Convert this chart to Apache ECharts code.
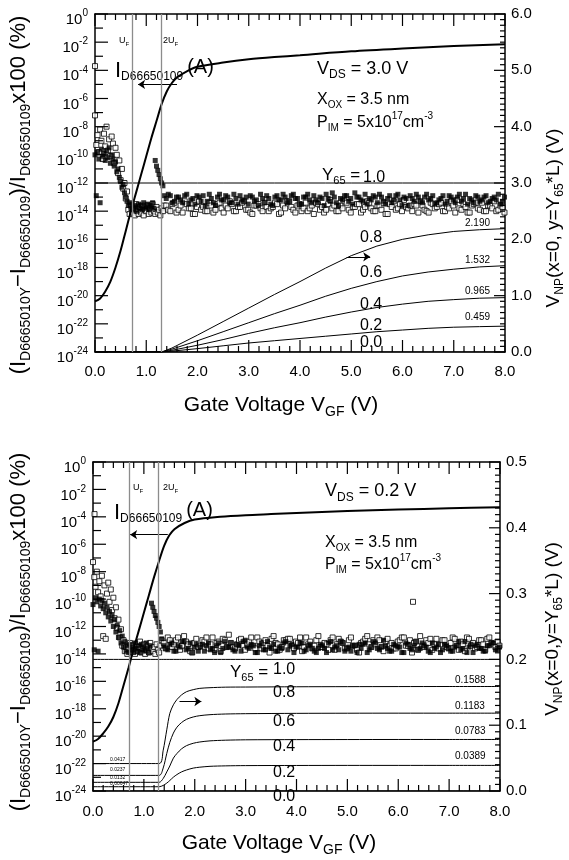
<!DOCTYPE html>
<html>
<head>
<meta charset="utf-8">
<script src="https://cdn.jsdelivr.net/npm/echarts@6/dist/echarts.min.js"></script>
<style>
html, body { margin: 0; padding: 0; background: #fff; }
#chart { position: relative; width: 569px; height: 860px; }
#top, #bot { position: absolute; left: 0; width: 569px; height: 430px; }
#top { top: 0; }
#bot { top: 430px; }
</style>
</head>
<body>
<div id="chart"><div id="top"></div><div id="bot"></div></div>
<script>
// gate voltage sweep (V), shared by the measured ratio scatter sets
const sweepGate = [
  0,0.025,0.05,0.075,0.1,0.125,0.15,0.175,0.2,0.225,0.25,0.275,0.3,0.325,0.35,0.375,0.4,0.425,0.45,0.475,
  0.5,0.525,0.55,0.575,0.6,0.625,0.65,0.675,0.7,0.725,0.75,0.775,0.8,0.825,0.85,0.875,0.9,0.925,0.95,0.975,
  1,1.025,1.05,1.075,1.1,1.125,1.15,1.175,1.2,1.225,1.25,1.275,1.3,1.325,1.35,
  1.39,1.43,1.47,1.51,1.55,1.59,1.63,1.67,1.71,1.75,1.79,1.83,1.87,1.91,1.95,1.99,2.03,2.07,2.11,2.15,
  2.19,2.23,2.27,2.31,2.35,2.39,2.43,2.47,2.51,2.55,2.59,2.63,2.67,2.71,2.75,2.79,2.83,2.87,2.91,2.95,
  2.99,3.03,3.07,3.11,3.15,3.19,3.23,3.27,3.31,3.35,3.39,3.43,3.47,3.51,3.55,3.59,3.63,3.67,3.71,3.75,
  3.79,3.83,3.87,3.91,3.95,3.99,4.03,4.07,4.11,4.15,4.19,4.23,4.27,4.31,4.35,4.39,4.43,4.47,4.51,4.55,
  4.59,4.63,4.67,4.71,4.75,4.79,4.83,4.87,4.91,4.95,4.99,5.03,5.07,5.11,5.15,5.19,5.23,5.27,5.31,5.35,
  5.39,5.43,5.47,5.51,5.55,5.59,5.63,5.67,5.71,5.75,5.79,5.83,5.87,5.91,5.95,5.99,6.03,6.07,6.11,6.15,
  6.19,6.23,6.27,6.31,6.35,6.39,6.43,6.47,6.51,6.55,6.59,6.63,6.67,6.71,6.75,6.79,6.83,6.87,6.91,6.95,
  6.99,7.03,7.07,7.11,7.15,7.19,7.23,7.27,7.31,7.35,7.39,7.43,7.47,7.51,7.55,7.59,7.63,7.67,7.71,7.75,
  7.79,7.83,7.87,7.91,7.95,7.99
];

// log10 of the relative difference (%), V_DS = 3.0 V
const topFilledLog = [
  -10.0,-12.9,-9.8,-10.3,-13.4,-9.6,-10.1,-9.9,-10.4,-9.7,-10.2,-9.5,-10.6,-10.0,-10.3,-10.8,-10.5,-11.2,-11.0,-11.6,
  -11.9,-12.3,-12.1,-12.7,-13.0,-13.3,-13.6,-13.4,-13.8,-13.5,-13.9,-13.6,-13.7,-14.0,-13.5,-13.8,-13.6,-13.9,-13.4,-13.7,
  -13.8,-13.5,-13.9,-13.6,-13.7,-13.4,-13.8,-10.4,-10.8,-11.1,-11.4,-11.7,-12.0,-12.2,-12.9,
  -13.1,-12.8,-12.9,-13.4,-13.3,-13.0,-13.0,-13.2,-13.4,-12.9,-12.8,-13.5,-13.2,-13.1,-13.5,-12.9,-13.0,-13.3,-12.9,-13.6,
  -13.3,-12.8,-13.1,-13.4,-13.6,-13.0,-12.8,-13.2,-13.2,-12.9,-13.0,-13.4,-13.4,-12.8,-13.1,-13.5,-12.9,-13.2,-13.3,-13.0,
  -13.5,-12.9,-13.0,-13.3,-13.2,-13.6,-12.8,-13.1,-13.4,-12.9,-13.1,-13.5,-13.6,-13.0,-12.9,-13.2,-13.2,-12.8,-13.0,-13.4,
  -13.3,-12.9,-12.8,-13.1,-13.1,-13.5,-13.5,-13.0,-13.0,-12.8,-13.2,-13.4,-12.9,-13.2,-13.4,-13.0,-13.1,-13.6,-12.8,-13.1,
  -13.3,-12.7,-13.0,-13.4,-13.6,-13.1,-13.2,-12.9,-12.9,-13.3,-13.1,-13.5,-12.7,-13.0,-13.0,-13.2,-13.3,-12.8,-13.5,-13.1,
  -13.2,-12.9,-13.0,-13.4,-12.8,-13.0,-13.3,-13.5,-13.1,-12.9,-13.4,-13.2,-12.9,-12.8,-13.2,-13.6,-13.0,-13.1,-13.6,-12.9,
  -13.1,-13.3,-12.8,-13.0,-13.3,-13.4,-13.0,-12.8,-13.2,-13.1,-12.9,-13.5,-13.4,-13.2,-13.1,-12.9,-13.5,-13.3,-12.9,-13.0,
  -13.2,-13.4,-13.0,-12.8,-13.3,-13.1,-12.8,-13.5,-13.1,-13.2,-13.4,-12.9,-13.0,-13.3,-13.2,-13.0,-12.9,-13.4,-13.3,-13.1,
  -13.0,-13.2,-12.8,-13.5,-13.3,-13.0
];
const topOpenLog = [
  -7.2,-9.3,-8.6,-9.8,-8.2,-9.0,-10.3,-8.5,-9.4,-8.0,-9.7,-8.9,-10.1,-8.7,-9.2,-10.6,-9.5,-10.0,-11.3,-10.4,
  -11.8,-11.0,-12.4,-12.0,-13.1,-12.6,-13.9,-14.2,-13.6,-14.1,-13.8,-14.3,-13.5,-14.0,-14.2,-13.7,-14.1,-13.6,-14.3,-13.9,
  -14.0,-13.6,-14.2,-13.8,-14.1,-13.5,-14.0,-14.2,-13.7,-14.1,-13.9,-14.3,-13.8,-14.0,-13.6,
  -13.6,-13.9,-14.0,-13.5,-13.4,-14.1,-13.9,-13.6,-14.1,-13.3,-13.5,-13.8,-13.8,-14.2,-14.2,-13.7,-13.3,-13.9,-13.7,-14.0,
  -14.0,-13.4,-13.6,-14.1,-13.9,-13.5,-13.4,-13.8,-14.1,-13.6,-13.8,-13.3,-13.5,-14.0,-14.0,-13.7,-13.7,-13.4,-13.3,-13.9,
  -13.9,-14.1,-14.2,-13.6,-13.6,-13.5,-13.8,-14.0,-13.4,-13.7,-14.0,-13.8,-13.7,-13.4,-13.5,-14.2,-14.1,-13.6,-13.8,-13.3,
  -13.3,-13.7,-13.9,-14.1,-13.6,-13.5,-14.0,-13.8,-13.4,-14.0,-13.8,-13.6,-14.2,-13.4,-13.5,-13.9,-13.7,-14.1,-13.9,-13.5,
  -13.2,-13.8,-13.6,-14.0,-14.0,-13.6,-13.8,-13.3,-13.4,-13.9,-14.1,-13.7,-13.7,-13.5,-13.5,-14.1,-13.9,-13.7,-13.3,-13.4,
  -13.8,-14.0,-14.0,-13.6,-13.6,-13.9,-13.4,-14.2,-14.2,-13.5,-13.7,-13.3,-13.9,-13.8,-13.5,-14.0,-13.2,-13.7,-13.8,-13.6,
  -14.0,-13.5,-13.6,-14.1,-13.3,-13.6,-13.9,-14.0,-14.1,-13.4,-13.5,-13.8,-13.7,-13.5,-13.4,-14.0,-14.0,-13.7,-13.8,-13.3,
  -13.6,-14.1,-13.2,-13.8,-13.9,-13.5,-13.7,-14.1,-14.1,-13.6,-13.5,-13.4,-13.8,-13.9,-13.4,-14.0,-14.0,-13.6,-13.6,-13.8,
  -13.3,-14.0,-13.9,-13.6,-13.7,-14.1
];
const topOpenExtra = [[0, -3.7]];

// log10 of the relative difference (%), V_DS = 0.2 V
const botFilledLog = [
  -10.4,-13.7,-9.9,-10.2,-13.8,-10.0,-10.5,-10.1,-10.7,-10.3,-11.0,-10.6,-11.3,-10.9,-11.6,-11.2,-12.0,-11.5,-12.4,-11.9,
  -12.8,-12.3,-13.2,-12.7,-13.5,-13.1,-13.8,-13.4,-13.9,-13.3,-13.7,-13.5,-13.9,-13.2,-13.6,-13.8,-13.4,-13.9,-13.3,-13.7,
  -13.5,-13.8,-13.2,-13.6,-13.9,-13.4,-10.3,-10.6,-10.9,-11.2,-11.4,-11.7,-12.0,-12.4,-12.9,
  -13.4,-13.6,-13.7,-13.3,-13.2,-13.8,-13.8,-13.4,-13.5,-13.1,-13.1,-13.7,-13.6,-13.2,-13.9,-13.5,-13.3,-13.8,-13.5,-13.3,
  -13.8,-13.4,-13.2,-13.7,-13.6,-13.9,-13.4,-13.2,-13.9,-13.6,-13.1,-13.5,-13.5,-13.2,-13.7,-13.8,-13.3,-13.4,-13.8,-13.1,
  -13.0,-13.5,-13.6,-13.3,-13.4,-13.9,-13.9,-13.4,-13.2,-13.7,-13.7,-13.1,-13.5,-13.6,-13.3,-13.8,-13.8,-13.5,-13.6,-13.2,
  -13.1,-13.7,-13.4,-13.3,-13.9,-13.5,-13.5,-13.2,-13.2,-13.8,-13.7,-13.4,-13.3,-13.6,-13.8,-13.9,-13.6,-13.3,-13.4,-13.6,
  -13.9,-13.2,-13.1,-13.7,-13.5,-13.4,-13.7,-13.1,-13.2,-13.8,-13.6,-13.5,-13.8,-13.4,-13.4,-13.9,-13.3,-13.6,-13.3,-13.2,
  -13.9,-13.7,-13.5,-13.1,-13.2,-13.6,-13.7,-13.5,-13.0,-13.4,-13.6,-13.8,-13.8,-13.3,-13.4,-13.5,-13.5,-13.9,-13.9,-13.2,
  -13.3,-13.6,-13.7,-13.4,-13.1,-13.7,-13.6,-13.2,-13.4,-13.5,-13.8,-13.9,-13.2,-13.6,-13.5,-13.3,-13.9,-13.7,-13.3,-13.4,
  -13.6,-13.8,-13.8,-13.5,-13.4,-13.1,-13.7,-13.6,-13.1,-13.9,-13.5,-13.3,-13.9,-13.4,-13.3,-13.6,-13.6,-13.8,-13.8,-13.4,
  -13.4,-13.2,-13.2,-13.7,-13.7,-13.5
];
const botOpenLog = [
  -7.3,-8.4,-9.1,-8.0,-9.5,-8.7,-9.8,-8.3,-12.7,-9.0,-12.9,-9.6,-8.8,-10.2,-9.3,-10.8,-9.9,-11.4,-10.6,-12.1,
  -11.5,-12.8,-12.2,-13.4,-13.0,-13.8,-13.5,-14.0,-13.6,-13.2,-13.9,-13.4,-13.7,-14.0,-13.3,-13.8,-13.5,-13.1,-13.9,-13.6,
  -13.3,-14.0,-13.7,-13.4,-13.9,-13.2,-13.6,-13.8,-13.5,-14.0,-13.3,-13.7,-13.9,-13.4,-13.0,
  -13.2,-13.6,-12.8,-13.0,-13.5,-13.3,-13.0,-12.8,-13.7,-13.4,-12.7,-13.1,-13.3,-13.8,-13.9,-13.2,-12.9,-13.5,-13.4,-13.0,
  -13.1,-12.8,-13.6,-13.3,-12.8,-13.7,-13.2,-13.1,-13.8,-12.9,-13.0,-13.5,-12.6,-13.2,-13.5,-13.6,-13.3,-13.0,-12.9,-13.4,
  -13.7,-13.3,-13.1,-12.8,-13.4,-13.6,-12.8,-13.1,-13.6,-13.2,-13.0,-13.4,-13.9,-12.9,-12.7,-13.2,-13.3,-13.7,-13.5,-13.0,
  -13.0,-12.9,-12.9,-13.4,-13.6,-13.1,-13.2,-12.8,-13.8,-13.5,-12.8,-13.3,-13.1,-13.6,-13.4,-13.0,-12.7,-13.5,-13.5,-13.2,
  -13.3,-13.7,-13.0,-12.8,-13.7,-13.3,-12.9,-13.1,-13.2,-13.6,-13.6,-13.0,-12.8,-13.4,-13.4,-13.7,-13.9,-13.2,-13.1,-12.9,
  -12.7,-13.3,-13.5,-13.0,-13.3,-12.8,-13.0,-13.5,-13.8,-13.1,-12.9,-13.4,-13.2,-13.6,-13.6,-13.1,-13.0,-12.8,-12.8,-13.4,
  -13.4,-13.0,-13.9,-13.2,-13.1,-13.7,-12.7,-13.4,-13.5,-13.0,-13.2,-12.9,-13.7,-13.3,-12.9,-13.6,-13.3,-13.0,-13.0,-13.5,
  -13.6,-13.2,-12.8,-12.9,-13.4,-13.7,-13.1,-13.3,-13.8,-12.8,-12.9,-13.4,-13.2,-13.6,-13.5,-13.0,-13.0,-13.3,-13.7,-12.9,
  -12.8,-13.2,-13.3,-13.5,-13.1,-13.4
];
const botOpenExtra = [[0.03, -3.8], [6.29, -10.2]];

// drain current I_D66650109 (log10 A)
const idGate = [0,0.1,0.2,0.3,0.4,0.5,0.6,0.7,0.8,0.9,1.0,1.1,1.2,1.3,1.4,1.5,1.6,1.8,2.0,2.5,3.0,3.5,4.0,5.0,6.0,7.0,8.0];
const topIdLog = [-20.4,-20.2,-19.7,-19.0,-18.0,-16.8,-15.4,-14.0,-12.7,-11.4,-10.1,-8.8,-7.6,-6.4,-5.5,-4.9,-4.5,-4.05,-3.75,-3.45,-3.22,-3.06,-2.93,-2.65,-2.45,-2.28,-2.15];
const botIdLog = [-20.4,-20.2,-19.8,-19.3,-18.6,-17.6,-16.3,-15.0,-13.6,-12.3,-11.0,-9.7,-8.4,-7.2,-6.1,-5.35,-4.9,-4.45,-4.2,-4.0,-3.88,-3.8,-3.72,-3.58,-3.47,-3.38,-3.3];

// V_NP(x=0, y=Y65*L) (V) for Y65 = 1.0, 0.8, 0.6, 0.4, 0.2, 0.0
const topCurveGate = [0,1.3,1.5,2,2.5,3,3.5,4,4.5,5,5.5,6,6.5,7,7.5,8];
const topVnp10 = [3,3,3,3,3,3,3,3,3,3,3,3,3,3,3,3];
const topVnp08 = [0,0,0.07,0.3,0.54,0.78,1.02,1.25,1.49,1.71,1.88,2.0,2.08,2.14,2.17,2.19];
const topVnp06 = [0,0,0.05,0.2,0.36,0.52,0.68,0.83,0.99,1.13,1.25,1.35,1.42,1.47,1.51,1.532];
const topVnp04 = [0,0,0.03,0.12,0.22,0.33,0.43,0.52,0.62,0.71,0.79,0.85,0.9,0.93,0.955,0.965];
const topVnp02 = [0,0,0.015,0.06,0.11,0.16,0.2,0.24,0.28,0.32,0.36,0.39,0.42,0.44,0.45,0.459];
const topVnp00 = [0,0,0,0,0,0,0,0,0,0,0,0,0,0,0,0];

const botCurveGate = [0,1.3,1.38,1.45,1.51,1.58,1.65,1.74,1.84,1.97,2.1,2.3,2.6,3,4,5,6,7,8];
const botVnp10 = [0.2,0.2,0.2,0.2,0.2,0.2,0.2,0.2,0.2,0.2,0.2,0.2,0.2,0.2,0.2,0.2,0.2,0.2,0.2];
const botVnp08 = [0.0417,0.0417,0.062,0.093,0.118,0.131,0.139,0.146,0.151,0.154,0.156,0.157,0.1578,0.158,0.1584,0.1586,0.1587,0.1588,0.1588];
const botVnp06 = [0.0237,0.0237,0.035,0.057,0.074,0.088,0.097,0.104,0.109,0.1125,0.1145,0.116,0.117,0.1175,0.118,0.1182,0.1183,0.1183,0.1183];
const botVnp04 = [0.0132,0.0132,0.019,0.029,0.038,0.05,0.057,0.064,0.069,0.0725,0.0745,0.0762,0.0772,0.0778,0.0781,0.0782,0.0783,0.0783,0.0783];
const botVnp02 = [0.0065,0.0065,0.0085,0.012,0.016,0.021,0.025,0.029,0.032,0.0348,0.0362,0.0375,0.0382,0.0386,0.0388,0.0389,0.0389,0.0389,0.0389];
const botVnp00 = [0,0,0,0,0,0,0,0,0,0,0,0,0,0,0,0,0,0,0];

const yFractionTags = ['1.0', '0.8', '0.6', '0.4', '0.2', '0.0'];
const topEndTags = ['2.190', '1.532', '0.965', '0.459'];
const botEndTags = ['0.1588', '0.1183', '0.0783', '0.0389'];
const botStartTags = ['0.0417', '0.0237', '0.0132', '0.00647'];

const uF = 0.72, twoUF = 1.29;

const FONT = '"Liberation Sans", Arial, Helvetica, sans-serif';
const black = '#000';
const BOT_OFFSET = 430; // the lower panel lives in its own chart below this line

function pairs(xs, ys) { return xs.map((x, i) => [x, ys[i]]); }

// rich text with sub/superscripts: m main, d sub, u sup
function richSet(S, sub, drop, sup, rise) {
  sup = sup || Math.round(S * 0.62);
  rise = rise || S * 0.42;
  const up = Math.max(0, rise + sup / 2 - S / 2);
  const mid = up + S / 2;
  const tok = (fs, pt) => ({ fontFamily: FONT, fontSize: fs, lineHeight: fs, padding: [pt, 0, 0, 0], verticalAlign: 'top', fill: black, color: black });
  return { mid: mid, rich: { m: tok(S, up), d: tok(sub, mid + drop - sub / 2), u: tok(sup, mid - rise - sup / 2) } };
}

function txt(x, y, text, set, rot, align) {
  return {
    type: 'text', silent: true, x: x, y: y, rotation: rot || 0,
    style: { text: text, rich: set.rich, x: 0, y: -set.mid, align: align || 'left', textAlign: align || 'left', verticalAlign: 'top', textVerticalAlign: 'top', fill: black }
  };
}
function txtB(x, y, text, set, rot, align) { return txt(x, y - BOT_OFFSET, text, set, rot, align); }

const setUF = richSet(9, 6, 3);
const setBig = richSet(18, 12, 6);
const setY65 = richSet(17, 11, 6);
const setParam = richSet(16, 10, 5, 10, 7);
const setNum = richSet(16, 10, 5);
const setEnd = richSet(10, 6, 3);
const setTiny = richSet(5, 3, 2);
const setLeftTitle = richSet(22, 14, 7);
const setRightTitle = richSet(19, 12, 6);
const setXTitle = richSet(21, 14, 7);
const setID = {
  mid: 13,
  rich: {
    m: { fontFamily: FONT, fontSize: 22, lineHeight: 22, padding: [2, 0, 0, 0], verticalAlign: 'top', fill: black },
    d: { fontFamily: FONT, fontSize: 12, lineHeight: 12, padding: [13, 0, 0, 0], verticalAlign: 'top', fill: black },
    a: { fontFamily: FONT, fontSize: 20, lineHeight: 20, padding: [0, 0, 0, 4], verticalAlign: 'top', fill: black }
  }
};

const R90 = Math.PI / 2;
const leftTitle = '{m|(I}{d|D6665010Y}{m|\u2212I}{d|D66650109}{m|)/I}{d|D66650109}{m|x100 (%)}';
const xTitle = '{m|Gate Voltage V}{d|GF}{m| (V)}';

const topGraphics = [
  txt(119, 41, '{m|U}{d|F}', setUF),
  txt(163, 41, '{m|2U}{d|F}', setUF),
  txt(115, 70.5, '{m|I}{d|D66650109}{a|(A)}', setID),
  txt(317, 69, '{m|V}{d|DS}{m| = 3.0 V}', setBig),
  txt(317, 100, '{m|X}{d|OX}{m| = 3.5 nm}', setParam),
  txt(317, 123, '{m|P}{d|IM}{m| = 5x10}{u|17}{m|cm}{u|-3}', setParam),
  txt(322, 175, '{m|Y}{d|65}{m| =}', setY65),
  txt(363, 178, '{m|' + yFractionTags[0] + '}', setNum),
  txt(360, 238, '{m|' + yFractionTags[1] + '}', setNum),
  txt(360, 273, '{m|' + yFractionTags[2] + '}', setNum),
  txt(360, 305, '{m|' + yFractionTags[3] + '}', setNum),
  txt(360, 326, '{m|' + yFractionTags[4] + '}', setNum),
  txt(360, 343, '{m|' + yFractionTags[5] + '}', setNum),
  txt(465, 223, '{m|' + topEndTags[0] + '}', setEnd),
  txt(465, 260, '{m|' + topEndTags[1] + '}', setEnd),
  txt(465, 291.5, '{m|' + topEndTags[2] + '}', setEnd),
  txt(465, 317, '{m|' + topEndTags[3] + '}', setEnd),
  txt(19, 195, leftTitle, setLeftTitle, R90, 'center'),
  txt(554, 218, '{m|V}{d|NP}{m|(x=0, y=Y}{d|65}{m|*L) (V)}', setRightTitle, R90, 'center'),
  txt(281, 405, xTitle, setXTitle, 0, 'center')
];

const botGraphics = [
  txtB(133, 488, '{m|U}{d|F}', setUF),
  txtB(163, 488, '{m|2U}{d|F}', setUF),
  txtB(114, 513, '{m|I}{d|D66650109}{a|(A)}', setID),
  txtB(325, 491.5, '{m|V}{d|DS}{m| = 0.2 V}', setBig),
  txtB(325, 543, '{m|X}{d|OX}{m| = 3.5 nm}', setParam),
  txtB(325, 565, '{m|P}{d|IM}{m| = 5x10}{u|17}{m|cm}{u|-3}', setParam),
  txtB(230, 672, '{m|Y}{d|65}{m| =}', setY65),
  txtB(273, 670, '{m|' + yFractionTags[0] + '}', setNum),
  txtB(273, 693, '{m|' + yFractionTags[1] + '}', setNum),
  txtB(273, 722, '{m|' + yFractionTags[2] + '}', setNum),
  txtB(273, 747, '{m|' + yFractionTags[3] + '}', setNum),
  txtB(273, 773, '{m|' + yFractionTags[4] + '}', setNum),
  txtB(273, 797, '{m|' + yFractionTags[5] + '}', setNum),
  txtB(455, 680, '{m|' + botEndTags[0] + '}', setEnd),
  txtB(455, 706, '{m|' + botEndTags[1] + '}', setEnd),
  txtB(455, 731, '{m|' + botEndTags[2] + '}', setEnd),
  txtB(455, 756.5, '{m|' + botEndTags[3] + '}', setEnd),
  txtB(110, 760, '{m|' + botStartTags[0] + '}', setTiny),
  txtB(110, 770, '{m|' + botStartTags[1] + '}', setTiny),
  txtB(110, 777.5, '{m|' + botStartTags[2] + '}', setTiny),
  txtB(110, 783.5, '{m|' + botStartTags[3] + '}', setTiny),
  txtB(19, 632, leftTitle, setLeftTitle, R90, 'center'),
  txtB(553, 629, '{m|V}{d|NP}{m|(x=0,y=Y}{d|65}{m|*L) (V)}', setRightTitle, R90, 'center'),
  txtB(279, 843, xTitle, setXTitle, 0, 'center')
];

function xAxes(margin) {
  const make = (pos) => ({
    type: 'value', gridIndex: 0, position: pos, min: 0, max: 8, interval: 1,
    splitLine: { show: false },
    axisLine: { show: true, onZero: false, lineStyle: { color: black, width: 1.5 } },
    axisTick: { show: false },
    axisLabel: pos === 'bottom'
      ? { show: true, margin: margin, fontFamily: FONT, fontSize: 15, color: black, showMinLabel: true, showMaxLabel: true, formatter: v => v.toFixed(1) }
      : { show: false }
  });
  return [make('bottom'), make('top')];
}

function logAxis() {
  return {
    type: 'value', gridIndex: 0, position: 'left', min: -24, max: 0, interval: 2,
    splitLine: { show: false },
    axisLine: { show: true, onZero: false, lineStyle: { color: black, width: 1.5 } },
    axisTick: { show: false },
    axisLabel: {
      show: true, margin: 7, showMinLabel: true, showMaxLabel: true,
      formatter: v => '{b|10}{e|' + String(v) + '}',
      rich: {
        b: { fontFamily: FONT, fontSize: 15, lineHeight: 15, padding: [6, 0, 6, 0], verticalAlign: 'top', color: black },
        e: { fontFamily: FONT, fontSize: 10, lineHeight: 10, padding: [2, 0, 0, 0], verticalAlign: 'top', color: black }
      }
    }
  };
}

function vAxis(max, step) {
  return {
    type: 'value', gridIndex: 0, position: 'right', min: 0, max: max, interval: step,
    splitLine: { show: false },
    axisLine: { show: true, onZero: false, lineStyle: { color: black, width: 1.5 } },
    axisTick: { show: false },
    axisLabel: { show: true, margin: 6, fontFamily: FONT, fontSize: 15, color: black, showMinLabel: true, showMaxLabel: true, formatter: v => v.toFixed(1) }
  };
}

// inward tick marks placed through the axes' own value->pixel conversion
function tickMarks(chart, d) {
  const els = [];
  const top = d.box[1], bottom = d.box[1] + d.box[3];
  const left = d.box[0], right = d.box[0] + d.box[2];
  const seg = (x1, y1, x2, y2) => els.push({
    type: 'line', silent: true, z: 100,
    shape: { x1: x1, y1: y1, x2: x2, y2: y2 },
    style: { stroke: black, lineWidth: 1.2 }
  });
  for (let i = 0; i <= 40; i++) {
    const px = chart.convertToPixel({ xAxisIndex: 0 }, i / 5);
    const len = i % 5 === 0 ? 12 : 6;
    seg(px, bottom, px, bottom - len);
    seg(px, top, px, top + len);
  }
  for (let e = -24; e <= 0; e++) {
    const py = chart.convertToPixel({ yAxisIndex: 0 }, e);
    seg(left, py, left + (e % 2 === 0 ? 13 : 8), py);
  }
  const nMinor = Math.round(d.vMax / d.vStep) * 10;
  for (let i = 0; i <= nMinor; i++) {
    const py = chart.convertToPixel({ yAxisIndex: 1 }, i * d.vStep / 10);
    seg(right, py, right - (i % 10 === 0 ? 11 : 5), py);
  }
  return els;
}

function panelSeries(d) {
  const list = [];
  list.push({
    type: 'scatter', xAxisIndex: 0, yAxisIndex: 0, symbol: 'rect', symbolSize: 5,
    itemStyle: { color: '#fff', borderColor: black, borderWidth: 1 },
    data: pairs(sweepGate, d.open).concat(d.openExtra)
  });
  list.push({
    type: 'scatter', xAxisIndex: 0, yAxisIndex: 0, symbol: 'rect', symbolSize: 5,
    itemStyle: { color: black }, data: pairs(sweepGate, d.filled),
    markLine: {
      silent: true, symbol: ['none', 'arrow'], symbolSize: 7, label: { show: false },
      lineStyle: { color: black, width: 1, type: 'solid' },
      data: [[{ coord: d.idArrow[0] }, { coord: d.idArrow[1] }]]
    }
  });
  list.push({
    type: 'line', xAxisIndex: 0, yAxisIndex: 0, data: pairs(idGate, d.idLog),
    showSymbol: false, smooth: 0.3,
    lineStyle: { color: black, width: 2 },
    markLine: {
      silent: true, symbol: 'none', label: { show: false },
      lineStyle: { color: '#8c8c8c', width: 1.3, type: 'solid' },
      data: [{ xAxis: uF }, { xAxis: twoUF }]
    }
  });
  d.curves.forEach((c, k) => {
    const s = {
      type: 'line', xAxisIndex: 0, yAxisIndex: 1, data: pairs(d.curveGate, c),
      showSymbol: false, smooth: d.smoothCurves,
      lineStyle: { color: black, width: 1 }
    };
    if (k === 1) {
      s.markLine = {
        silent: true, symbol: ['none', 'arrow'], symbolSize: 7, label: { show: false },
        lineStyle: { color: black, width: 1, type: 'solid' },
        data: [[{ coord: d.vArrow[0] }, { coord: d.vArrow[1] }]]
      };
    }
    list.push(s);
  });
  return list;
}

function drawPanel(el, d) {
  const chart = echarts.init(el);
  chart.setOption({
    animation: false,
    backgroundColor: '#fff',
    grid: { left: d.box[0], top: d.box[1], width: d.box[2], height: d.box[3] },
    xAxis: xAxes(d.labelMargin),
    yAxis: [logAxis(), vAxis(d.vMax, d.vStep)],
    series: panelSeries(d)
  });
  chart.setOption({ graphic: { elements: d.graphics.concat(tickMarks(chart, d)) } });
  return chart;
}

drawPanel(document.getElementById('top'), {
  box: [95, 14, 410, 338], labelMargin: 12, vMax: 6, vStep: 1,
  filled: topFilledLog, open: topOpenLog, openExtra: topOpenExtra, idLog: topIdLog,
  idArrow: [[1.6, -5.0], [0.84, -5.0]],
  curveGate: topCurveGate, curves: [topVnp10, topVnp08, topVnp06, topVnp04, topVnp02, topVnp00],
  smoothCurves: false,
  vArrow: [[4.91, 1.69], [5.37, 1.69]],
  graphics: topGraphics
});

drawPanel(document.getElementById('bot'), {
  box: [93, 462 - BOT_OFFSET, 407, 329], labelMargin: 13, vMax: 0.5, vStep: 0.1,
  filled: botFilledLog, open: botOpenLog, openExtra: botOpenExtra, idLog: botIdLog,
  idArrow: [[1.47, -5.3], [0.73, -5.3]],
  curveGate: botCurveGate, curves: [botVnp10, botVnp08, botVnp06, botVnp04, botVnp02, botVnp00],
  smoothCurves: 0.3,
  vArrow: [[1.7, 0.136], [2.13, 0.136]],
  graphics: botGraphics
});
</script>
</body>
</html>
